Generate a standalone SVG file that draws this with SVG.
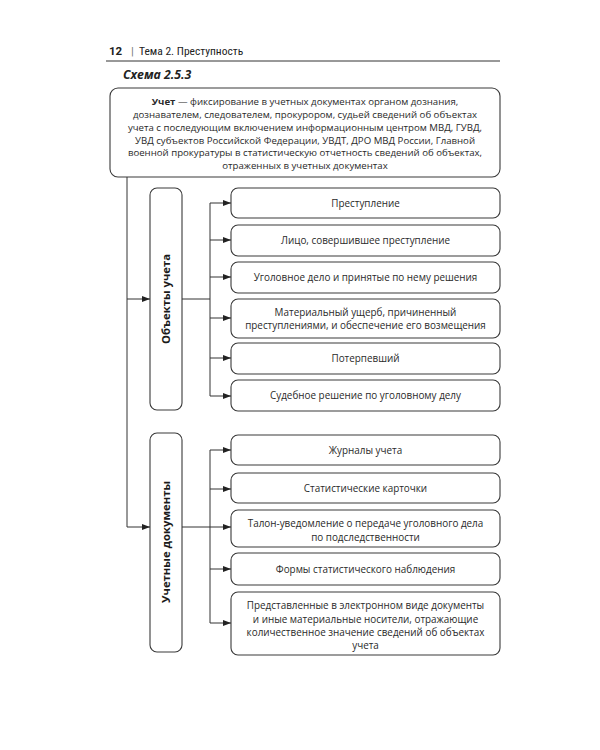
<svg xmlns="http://www.w3.org/2000/svg" width="600" height="750" viewBox="0 0 600 750">
<style>
.box{fill:#fff;stroke:#3a3a3a;stroke-width:1.1}
.t{font-family:"Open Sans","Liberation Sans",sans-serif;font-size:9.9px;fill:#2a2a2a;text-anchor:middle}
.u{font-size:9.65px}
.v{font-family:"Open Sans","Liberation Sans",sans-serif;font-size:11.3px;font-weight:bold;fill:#1a1a1a;text-anchor:middle}
.c{fill:none;stroke:#333;stroke-width:1}
.hd{font-family:"Roboto","Liberation Sans",sans-serif;font-size:11.5px;fill:#222}
</style>
<defs>
<marker id="ah" markerWidth="8" markerHeight="6" refX="8" refY="3" orient="auto" markerUnits="userSpaceOnUse">
<path d="M0,0 L8,3 L0,6 z" fill="#222"/>
</marker>
</defs>
<rect width="600" height="750" fill="#fff"/>
<g id="header">
<text x="109" y="55" class="hd" style="font-weight:bold">12</text>
<text x="131" y="55" class="hd" style="fill:#777">|</text>
<text x="139" y="55" class="hd" style="font-stretch:condensed">Тема 2. Преступность</text>
<line x1="106" y1="61" x2="500" y2="61" stroke="#333" stroke-width="1"/>
<text x="123" y="79" style="font-family:'Open Sans','Liberation Sans',sans-serif;font-size:12.3px;font-weight:bold;font-style:italic;fill:#222">Схема 2.5.3</text>
</g>
<g id="uchet">
<rect class="box" x="110" y="88" width="390" height="89" rx="8"/>
<text class="t u" x="305" y="105"><tspan font-weight="bold">Учет</tspan> — фиксирование в учетных документах органом дознания,</text>
<text class="t u" x="305" y="118">дознавателем, следователем, прокурором, судьей сведений об объектах</text>
<text class="t u" x="305" y="131">учета с последующим включением информационным центром МВД, ГУВД,</text>
<text class="t u" x="305" y="143.5">УВД субъектов Российской Федерации, УВДТ, ДРО МВД России, Главной</text>
<text class="t u" x="305" y="156">военной прокуратуры в статистическую отчетность сведений об объектах,</text>
<text class="t u" x="305" y="169">отраженных в учетных документах</text>
</g>
<g id="objects">
<rect class="box" x="150" y="188" width="32" height="222" rx="7"/>
<text class="v" transform="translate(170,299) rotate(-90)">Объекты учета</text>
</g>
<g id="documents">
<rect class="box" x="150" y="433" width="32" height="219" rx="7"/>
<text class="v" transform="translate(170,542) rotate(-90)">Учетные документы</text>
</g>
<g id="o1"><rect class="box" x="231" y="188" width="269" height="30" rx="7"/><text class="t" x="365.5" y="207">Преступление</text></g>
<g id="o2"><rect class="box" x="231" y="225" width="269" height="31" rx="7"/><text class="t" x="365.5" y="244">Лицо, совершившее преступление</text></g>
<g id="o3"><rect class="box" x="231" y="262" width="269" height="31" rx="7"/><text class="t" x="365.5" y="281">Уголовное дело и принятые по нему решения</text></g>
<g id="o4"><rect class="box" x="231" y="299" width="269" height="39" rx="7"/><text class="t" x="365.5" y="316">Материальный ущерб, причиненный</text><text class="t" x="365.5" y="329">преступлениями, и обеспечение его возмещения</text></g>
<g id="o5"><rect class="box" x="231" y="343" width="269" height="31" rx="7"/><text class="t" x="365.5" y="362">Потерпевший</text></g>
<g id="o6"><rect class="box" x="231" y="380" width="269" height="31" rx="7"/><text class="t" x="365.5" y="399">Судебное решение по уголовному делу</text></g>
<g id="d1"><rect class="box" x="231" y="435" width="269" height="30" rx="7"/><text class="t" x="365.5" y="454">Журналы учета</text></g>
<g id="d2"><rect class="box" x="231" y="473" width="269" height="30" rx="7"/><text class="t" x="365.5" y="492">Статистические карточки</text></g>
<g id="d3"><rect class="box" x="231" y="510" width="269" height="37" rx="7"/><text class="t" x="365.5" y="527">Талон-уведомление о передаче уголовного дела</text><text class="t" x="365.5" y="541">по подследственности</text></g>
<g id="d4"><rect class="box" x="231" y="553" width="269" height="32" rx="7"/><text class="t" x="365.5" y="573">Формы статистического наблюдения</text></g>
<g id="d5"><rect class="box" x="231" y="592" width="269" height="63" rx="7"/><text class="t" x="365.5" y="609">Представленные в электронном виде документы</text><text class="t" x="365.5" y="622.5">и иные материальные носители, отражающие</text><text class="t" x="365.5" y="636">количественное значение сведений об объектах</text><text class="t" x="365.5" y="649">учета</text></g>
<g id="connectors">
<path class="c" d="M127,177 V527"/>
<path class="c" d="M127,299 H150" marker-end="url(#ah)"/>
<path class="c" d="M127,527 H150" marker-end="url(#ah)"/>
<path class="c" d="M182,299 H210"/>
<path class="c" d="M210,203 V396"/>
<path class="c" d="M210,203 H231" marker-end="url(#ah)"/>
<path class="c" d="M210,240 H231" marker-end="url(#ah)"/>
<path class="c" d="M210,277 H231" marker-end="url(#ah)"/>
<path class="c" d="M210,318 H231" marker-end="url(#ah)"/>
<path class="c" d="M210,358 H231" marker-end="url(#ah)"/>
<path class="c" d="M210,396 H231" marker-end="url(#ah)"/>
<path class="c" d="M182,527 H210"/>
<path class="c" d="M210,450 V623"/>
<path class="c" d="M210,450 H231" marker-end="url(#ah)"/>
<path class="c" d="M210,489 H231" marker-end="url(#ah)"/>
<path class="c" d="M210,527 H231" marker-end="url(#ah)"/>
<path class="c" d="M210,569 H231" marker-end="url(#ah)"/>
<path class="c" d="M210,623 H231" marker-end="url(#ah)"/>
</g>
</svg>
